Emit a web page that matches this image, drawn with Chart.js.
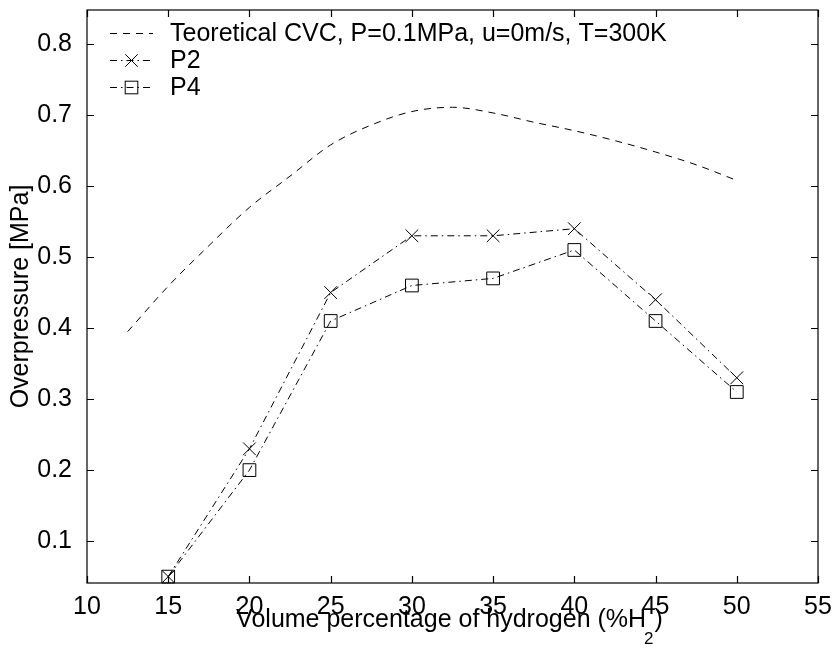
<!DOCTYPE html>
<html>
<head>
<meta charset="utf-8">
<script src="https://cdn.jsdelivr.net/npm/chart.js@4.4.0/dist/chart.umd.min.js"></script>
<style>
  html, body { margin: 0; padding: 0; background: #fff; }
  #wrap { width: 832px; height: 648px; }
</style>
</head>
<body>
<div id="wrap"><canvas id="chart" width="832" height="648"></canvas></div>
<script>
// valores
var theoryX = [12.5, 15, 17.5, 20, 22.5, 25, 27.5, 30, 32.5, 35, 37.5, 40, 42.5, 45, 47.5, 50];
var theoryY = [0.395, 0.459, 0.516, 0.570, 0.614, 0.658, 0.686, 0.705, 0.711, 0.703, 0.690, 0.678, 0.664, 0.648, 0.630, 0.608];

var hydrogen = [15, 20, 25, 30, 35, 40, 45, 50];
var p2 = [0.05, 0.23, 0.45, 0.53, 0.53, 0.54, 0.44, 0.33];
var p4 = [0.05, 0.20, 0.41, 0.46, 0.47, 0.51, 0.41, 0.31];

var xTicks = [10, 15, 20, 25, 30, 35, 40, 45, 50, 55];
var yTicks = [0.1, 0.2, 0.3, 0.4, 0.5, 0.6, 0.7, 0.8];

var labels = ['Teoretical CVC, P=0.1MPa, u=0m/s, T=300K', 'P2', 'P4'];
var xTitle = 'Volume percentage of hydrogen (%H';
var yTitle = 'Overpressure [MPa]';

var FONT = '"Liberation Sans", Arial, Helvetica, sans-serif';

function toPoints(xs, ys) {
    return xs.map(function(x, i) { return { x: x, y: ys[i] }; });
}

// caja con marcas hacia adentro (estilo matlab)
var boxPlugin = {
    id: 'boxTicks',
    afterDraw: function(chart) {
        var ctx = chart.ctx, a = chart.chartArea;
        var xs = chart.scales.x, ys = chart.scales.y;
        var len = 7;
        ctx.save();
        ctx.strokeStyle = '#000';
        ctx.lineWidth = 1.2;
        ctx.setLineDash([]);
        ctx.strokeRect(a.left, a.top, a.right - a.left, a.bottom - a.top);
        ctx.beginPath();
        xTicks.forEach(function(v) {
            var px = Math.round(xs.getPixelForValue(v)) + 0.5;
            ctx.moveTo(px, a.bottom); ctx.lineTo(px, a.bottom - len);
            ctx.moveTo(px, a.top); ctx.lineTo(px, a.top + len);
        });
        yTicks.forEach(function(v) {
            var py = Math.round(ys.getPixelForValue(v)) + 0.5;
            ctx.moveTo(a.left, py); ctx.lineTo(a.left + len, py);
            ctx.moveTo(a.right, py); ctx.lineTo(a.right - len, py);
        });
        ctx.stroke();

        // titulo eje x con subindice
        ctx.fillStyle = '#000';
        ctx.textBaseline = 'alphabetic';
        ctx.textAlign = 'left';
        ctx.font = '25px ' + FONT;
        var w1 = ctx.measureText(xTitle).width;
        ctx.font = '17px ' + FONT;
        var w2 = ctx.measureText('2').width;
        ctx.font = '25px ' + FONT;
        var w3 = ctx.measureText(')').width;
        var start = 450 - (w1 + w2 + w3) / 2;
        ctx.fillText(xTitle, start, 627);
        ctx.font = '17px ' + FONT;
        ctx.fillText('2', start + w1 - 2, 644);
        ctx.font = '25px ' + FONT;
        ctx.fillText(')', start + w1 + w2 - 1, 627);
        ctx.restore();
    }
};

// leyenda dentro del área
var legendPlugin = {
    id: 'innerLegend',
    afterDraw: function(chart) {
        var ctx = chart.ctx;
        var rows = [33, 60, 87];
        ctx.save();
        chart.data.datasets.forEach(function(ds, i) {
            var y = rows[i] + 0.5;
            ctx.strokeStyle = '#000';
            ctx.lineWidth = 1;
            ctx.setLineDash(ds.borderDash || []);
            ctx.beginPath();
            ctx.moveTo(110, y); ctx.lineTo(153, y);
            ctx.stroke();
            ctx.setLineDash([]);
            var cx = 131.5, r = 6.3;
            if (ds.pointStyle === 'crossRot') {
                ctx.beginPath();
                ctx.moveTo(cx - r, y - r); ctx.lineTo(cx + r, y + r);
                ctx.moveTo(cx + r, y - r); ctx.lineTo(cx - r, y + r);
                ctx.stroke();
            } else if (ds.pointStyle === 'rect') {
                ctx.strokeRect(cx - r, y - r, 2 * r, 2 * r);
            }
            ctx.fillStyle = '#000';
            ctx.font = '25px ' + FONT;
            ctx.textBaseline = 'middle';
            ctx.textAlign = 'left';
            ctx.fillText(ds.label, 170, y + 1);
        });
        ctx.restore();
    }
};

new Chart(document.getElementById('chart'), {
    type: 'line',
    data: {
        datasets: [{
            label: labels[0],
            data: toPoints(theoryX, theoryY),
            borderColor: '#000',
            borderWidth: 1,
            borderDash: [7, 6],
            pointRadius: 0,
            cubicInterpolationMode: 'monotone',
            fill: false
        }, {
            label: labels[1],
            data: toPoints(hydrogen, p2),
            borderColor: '#000',
            borderWidth: 1,
            borderDash: [7, 4, 1.5, 4],
            pointStyle: 'crossRot',
            pointRadius: 9,
            pointBorderWidth: 1,
            pointBorderColor: '#000',
            pointBackgroundColor: 'rgba(0,0,0,0)',
            tension: 0,
            fill: false,
            clip: false
        }, {
            label: labels[2],
            data: toPoints(hydrogen, p4),
            borderColor: '#000',
            borderWidth: 1,
            borderDash: [7, 4, 1.5, 4],
            pointStyle: 'rect',
            pointRadius: 9,
            pointBorderWidth: 1,
            pointBorderColor: '#000',
            pointBackgroundColor: 'rgba(0,0,0,0)',
            tension: 0,
            fill: false,
            clip: false
        }]
    },
    options: {
        responsive: false,
        animation: false,
        devicePixelRatio: 1,
        layout: { padding: { top: 9, right: 14, left: 0, bottom: 0 } },
        plugins: {
            legend: { display: false },
            tooltip: { enabled: false }
        },
        scales: {
            x: {
                type: 'linear',
                min: 10,
                max: 55,
                grid: { display: false },
                border: { display: false },
                afterBuildTicks: function(scale) {
                    scale.ticks = xTicks.map(function(v) { return { value: v }; });
                },
                afterFit: function(scale) {
                    scale.height = 65;
                    scale.paddingLeft = 0;
                    scale.paddingRight = 0;
                },
                ticks: {
                    autoSkip: false,
                    maxRotation: 0,
                    padding: 1,
                    color: '#000',
                    font: { family: FONT, size: 25 },
                    callback: function(v) { return String(v); }
                }
            },
            y: {
                type: 'linear',
                min: 0.041,
                max: 0.848,
                grid: { display: false },
                border: { display: false },
                afterBuildTicks: function(scale) {
                    scale.ticks = yTicks.map(function(v) { return { value: v }; });
                },
                afterFit: function(scale) {
                    scale.width = 87;
                    scale.paddingTop = 0;
                    scale.paddingBottom = 0;
                },
                title: {
                    display: true,
                    text: yTitle,
                    color: '#000',
                    font: { family: FONT, size: 25 },
                    padding: { top: 6, bottom: 0 }
                },
                ticks: {
                    autoSkip: false,
                    padding: 7,
                    color: '#000',
                    font: { family: FONT, size: 25 },
                    callback: function(v) { return Number(v).toFixed(1); }
                }
            }
        }
    },
    plugins: [boxPlugin, legendPlugin]
});
</script>
</body>
</html>
